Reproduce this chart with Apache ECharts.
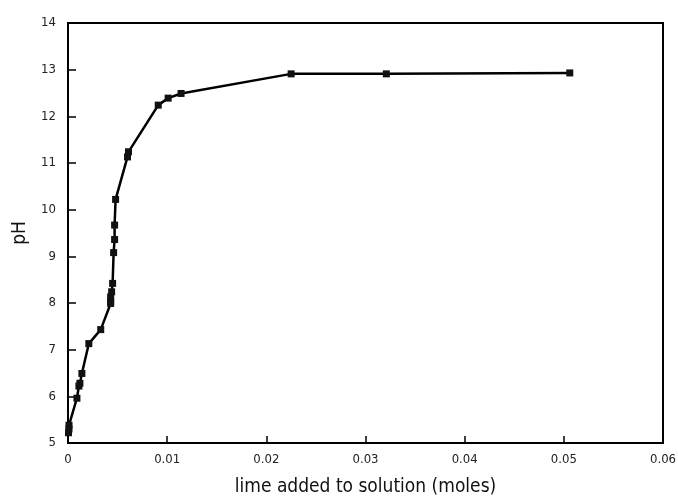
<!DOCTYPE html>
<html>
<head>
<meta charset="utf-8">
<script src="https://cdn.jsdelivr.net/npm/echarts@6/dist/echarts.min.js"></script>
<style>
  html, body { margin: 0; padding: 0; background: #fff; }
  #chart { width: 678px; height: 499px; }
</style>
</head>
<body>
<div id="chart"></div>
<script>
  // lime added (moles) and measured pH
  const limeMoles = [0.00005, 0.0001, 0.0001, 0.0009, 0.0011, 0.0012, 0.0014, 0.0021, 0.0033,
    0.0043, 0.0043, 0.0043, 0.0044, 0.0045, 0.0046, 0.0047, 0.0047, 0.0048,
    0.0060, 0.0061, 0.0091, 0.0101, 0.0114, 0.0225, 0.0321, 0.0506];
  const phValues = [5.22, 5.3, 5.38, 5.96, 6.22, 6.28, 6.49, 7.13, 7.43,
    7.99, 8.03, 8.13, 8.24, 8.42, 9.08, 9.36, 9.67, 10.22,
    11.13, 11.24, 12.24, 12.39, 12.49, 12.91, 12.91, 12.93];
  const xTicks = ['0', '0.01', '0.02', '0.03', '0.04', '0.05', '0.06'];

  const myChart = echarts.init(document.getElementById('chart'));
  const font = '"DejaVu Sans Condensed", "Liberation Sans", Arial, sans-serif';

  myChart.setOption({
    animation: false,
    grid: {
      left: 68,
      right: 15,
      top: 23,
      bottom: 56,
      outerBoundsMode: 'none',
      show: true,
      borderColor: '#000',
      borderWidth: 2
    },
    xAxis: {
      type: 'value',
      min: 0,
      max: 0.06,
      interval: 0.01,
      name: 'lime added to solution (moles)',
      nameLocation: 'middle',
      nameGap: 35,
      nameTextStyle: { color: '#111', fontSize: 19, fontFamily: font },
      axisLine: { lineStyle: { color: '#000', width: 2 } },
      axisTick: { inside: true, length: 7, lineStyle: { color: '#000', width: 1.5 } },
      axisLabel: {
        color: '#222', fontSize: 13, fontFamily: font, margin: 10,
        formatter: (v) => xTicks[Math.round(v * 100)]
      },
      splitLine: { show: false }
    },
    yAxis: {
      type: 'value',
      min: 5,
      max: 14,
      interval: 1,
      name: 'pH',
      nameLocation: 'middle',
      nameGap: 38,
      nameRotate: 90,
      nameTextStyle: { color: '#111', fontSize: 19, fontFamily: font },
      axisLine: { lineStyle: { color: '#000', width: 2 } },
      axisTick: { inside: true, length: 8, lineStyle: { color: '#000', width: 1.5 } },
      axisLabel: { color: '#222', fontSize: 13, fontFamily: font, margin: 12 },
      splitLine: { show: false }
    },
    series: [{
      type: 'line',
      data: limeMoles.map((x, i) => [x, phValues[i]]),
      symbol: 'rect',
      symbolSize: 7,
      showAllSymbol: true,
      lineStyle: { color: '#000', width: 2.5 },
      itemStyle: { color: '#111' }
    }]
  });
</script>
</body>
</html>
